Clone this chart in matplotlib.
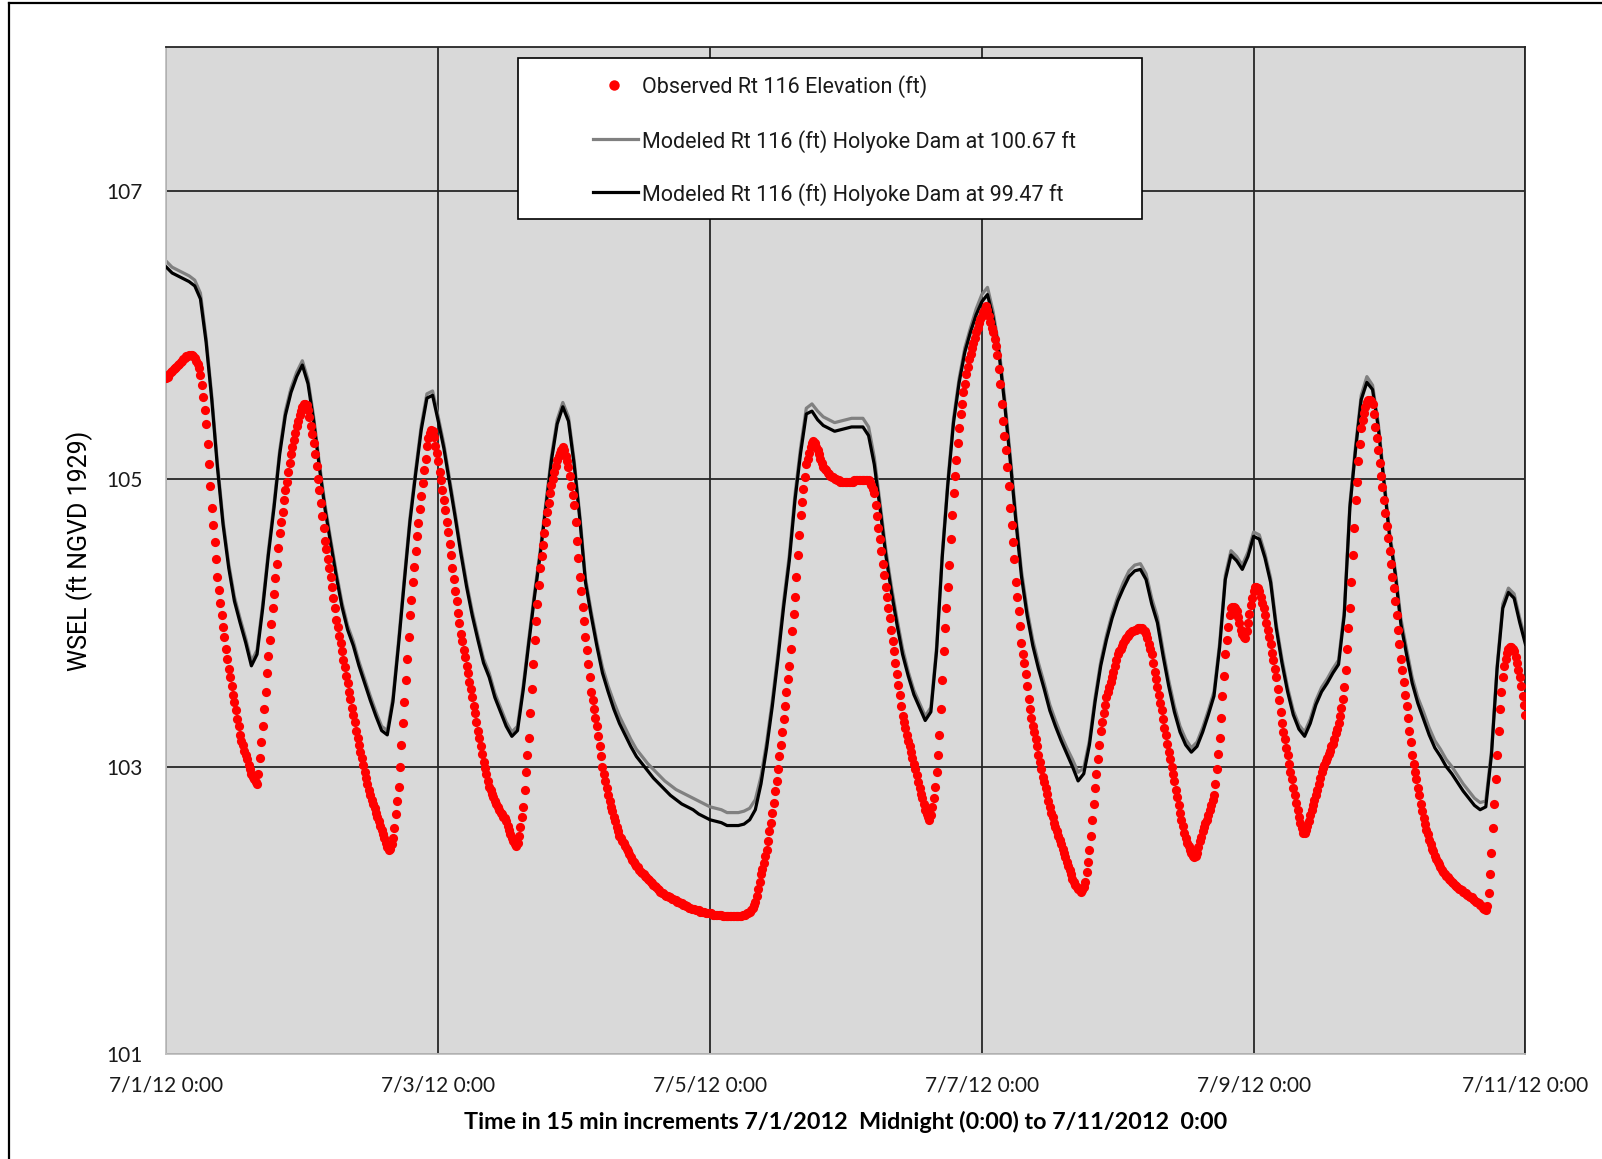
import matplotlib
matplotlib.use('Agg')
import matplotlib.pyplot as plt
import pandas as pd
from matplotlib.lines import Line2D
from matplotlib.patches import Rectangle

# Observed Rt 116 elevation (ft), every 15 min from 7/1/2012 0:00 to 7/11/2012 0:00
observed = [
    105.70, 105.71, 105.73, 105.74, 105.75, 105.76, 105.77, 105.78,
    105.79, 105.80, 105.81, 105.82, 105.83, 105.84, 105.85, 105.85,
    105.86, 105.86, 105.86, 105.85, 105.84, 105.82, 105.80, 105.77,
    105.72, 105.65, 105.57, 105.48, 105.38, 105.24, 105.10, 104.95,
    104.80, 104.68, 104.56, 104.44, 104.32, 104.23, 104.14, 104.05,
    103.97, 103.90, 103.82, 103.75, 103.68, 103.62, 103.56, 103.50,
    103.45, 103.39, 103.33, 103.28, 103.22, 103.18, 103.15, 103.11,
    103.08, 103.05, 103.01, 102.98, 102.95, 102.93, 102.91, 102.89,
    102.88, 102.95, 103.06, 103.17, 103.28, 103.40, 103.52, 103.65,
    103.77, 103.88, 103.99, 104.10, 104.20, 104.31, 104.41, 104.52,
    104.62, 104.70, 104.77, 104.85, 104.92, 104.98, 105.05, 105.11,
    105.17, 105.22, 105.27, 105.32, 105.37, 105.40, 105.44, 105.47,
    105.50, 105.52, 105.52, 105.51, 105.48, 105.43, 105.37, 105.31,
    105.25, 105.17, 105.09, 105.00, 104.92, 104.83, 104.74, 104.66,
    104.57, 104.51, 104.44, 104.38, 104.32, 104.25, 104.17, 104.10,
    104.02, 103.97, 103.91, 103.86, 103.80, 103.74, 103.69, 103.63,
    103.58, 103.52, 103.47, 103.41, 103.36, 103.31, 103.25, 103.20,
    103.15, 103.10, 103.06, 103.01, 102.96, 102.92, 102.88, 102.84,
    102.80, 102.77, 102.74, 102.71, 102.68, 102.65, 102.62, 102.59,
    102.56, 102.53, 102.50, 102.47, 102.44, 102.42, 102.43, 102.46,
    102.50, 102.57, 102.67, 102.76, 102.86, 103.00, 103.15, 103.30,
    103.45, 103.60, 103.75, 103.90, 104.05, 104.16, 104.28, 104.39,
    104.50, 104.60, 104.69, 104.79, 104.88, 104.97, 105.06, 105.14,
    105.23, 105.28, 105.32, 105.34, 105.33, 105.29, 105.23, 105.18,
    105.12, 105.05, 104.99, 104.92, 104.85, 104.78, 104.70, 104.63,
    104.55, 104.47, 104.38, 104.30, 104.22, 104.15, 104.07, 104.00,
    103.92, 103.87, 103.81, 103.76, 103.70, 103.65, 103.59, 103.54,
    103.48, 103.42, 103.37, 103.31, 103.25, 103.20, 103.14, 103.09,
    103.03, 102.99, 102.95, 102.90, 102.86, 102.84, 102.81, 102.79,
    102.76, 102.74, 102.72, 102.70, 102.68, 102.67, 102.65, 102.64,
    102.62, 102.59, 102.56, 102.53, 102.50, 102.48, 102.46, 102.45,
    102.47, 102.52, 102.58, 102.65, 102.72, 102.84, 102.96, 103.08,
    103.20, 103.37, 103.54, 103.71, 103.88, 104.01, 104.13, 104.26,
    104.38, 104.46, 104.54, 104.62, 104.70, 104.77, 104.83, 104.90,
    104.96, 105.00, 105.05, 105.09, 105.13, 105.16, 105.18, 105.20,
    105.22, 105.20, 105.16, 105.12, 105.08, 105.02, 104.95, 104.89,
    104.82, 104.70, 104.57, 104.45, 104.32, 104.22, 104.11, 104.01,
    103.90, 103.81, 103.71, 103.62, 103.52, 103.46, 103.40, 103.34,
    103.28, 103.21, 103.14, 103.07, 103.00, 102.95, 102.90, 102.85,
    102.80, 102.76, 102.72, 102.69, 102.65, 102.62, 102.58, 102.55,
    102.52, 102.50, 102.48, 102.47, 102.45, 102.43, 102.41, 102.39,
    102.37, 102.35, 102.34, 102.32, 102.31, 102.30, 102.28, 102.27,
    102.26, 102.25, 102.24, 102.23, 102.22, 102.21, 102.20, 102.19,
    102.18, 102.17, 102.16, 102.15, 102.14, 102.13, 102.12, 102.12,
    102.11, 102.10, 102.10, 102.09, 102.09, 102.08, 102.08, 102.07,
    102.07, 102.06, 102.06, 102.05, 102.05, 102.04, 102.04, 102.03,
    102.03, 102.02, 102.02, 102.01, 102.01, 102.01, 102.00, 102.00,
    102.00, 101.99, 101.99, 101.99, 101.99, 101.98, 101.98, 101.98,
    101.98, 101.98, 101.97, 101.97, 101.97, 101.97, 101.97, 101.97,
    101.97, 101.96, 101.96, 101.96, 101.96, 101.96, 101.96, 101.96,
    101.96, 101.96, 101.96, 101.96, 101.96, 101.96, 101.96, 101.97,
    101.97, 101.97, 101.98, 101.98, 101.99, 102.00, 102.02, 102.04,
    102.06, 102.10, 102.15, 102.20, 102.25, 102.29, 102.33, 102.38,
    102.42, 102.48, 102.55, 102.61, 102.68, 102.75, 102.83, 102.90,
    102.98, 103.07, 103.15, 103.24, 103.33, 103.42, 103.52, 103.61,
    103.70, 103.82, 103.94, 104.06, 104.18, 104.32, 104.47, 104.61,
    104.75, 104.84, 104.93, 105.01, 105.10, 105.14, 105.18, 105.22,
    105.25, 105.26, 105.25, 105.22, 105.20, 105.17, 105.14, 105.11,
    105.08, 105.07, 105.06, 105.04, 105.03, 105.02, 105.01, 105.01,
    105.00, 105.00, 104.99, 104.99, 104.98, 104.98, 104.98, 104.98,
    104.98, 104.98, 104.98, 104.98, 104.98, 104.98, 104.99, 104.99,
    104.99, 104.99, 104.99, 104.99, 104.99, 104.99, 104.99, 104.99,
    104.99, 104.98, 104.96, 104.93, 104.90, 104.82, 104.74, 104.66,
    104.58, 104.50, 104.41, 104.33, 104.25, 104.18, 104.10, 104.03,
    103.95, 103.87, 103.80, 103.72, 103.64, 103.57, 103.50, 103.42,
    103.35, 103.31, 103.27, 103.22, 103.18, 103.14, 103.10, 103.06,
    103.02, 102.98, 102.94, 102.89, 102.85, 102.81, 102.78, 102.74,
    102.70, 102.67, 102.65, 102.63, 102.66, 102.72, 102.78, 102.86,
    102.96, 103.08, 103.22, 103.40, 103.60, 103.80, 103.96, 104.10,
    104.25, 104.40, 104.58, 104.75, 104.90, 105.02, 105.13, 105.25,
    105.35, 105.45, 105.52, 105.60, 105.66, 105.73, 105.78, 105.83,
    105.87, 105.91, 105.94, 105.98, 106.02, 106.05, 106.08, 106.11,
    106.13, 106.16, 106.18, 106.20, 106.17, 106.13, 106.09, 106.05,
    106.02, 105.97, 105.92, 105.86, 105.76, 105.66, 105.52, 105.40,
    105.30, 105.20, 105.08, 104.95, 104.80, 104.68, 104.56, 104.44,
    104.28, 104.18, 104.08, 103.98, 103.86, 103.78, 103.72, 103.64,
    103.56, 103.47, 103.40, 103.34, 103.28, 103.24, 103.19, 103.14,
    103.08, 103.03, 102.98, 102.93, 102.89, 102.85, 102.81, 102.76,
    102.72, 102.68, 102.65, 102.61, 102.58, 102.55, 102.52, 102.49,
    102.46, 102.43, 102.40, 102.37, 102.34, 102.31, 102.28, 102.25,
    102.22, 102.20, 102.18, 102.16, 102.15, 102.14, 102.13, 102.14,
    102.16, 102.20, 102.27, 102.34, 102.42, 102.52, 102.63, 102.74,
    102.85, 102.95, 103.05, 103.15, 103.25, 103.31, 103.37, 103.43,
    103.48, 103.52, 103.55, 103.59, 103.62, 103.66, 103.70, 103.74,
    103.78, 103.80, 103.82, 103.84, 103.86, 103.88, 103.89, 103.91,
    103.92, 103.93, 103.94, 103.94, 103.95, 103.95, 103.96, 103.96,
    103.96, 103.96, 103.95, 103.94, 103.92, 103.89, 103.85, 103.82,
    103.78, 103.72, 103.66, 103.61, 103.55, 103.50, 103.44, 103.39,
    103.33, 103.27, 103.22, 103.16, 103.10, 103.05, 103.00, 102.95,
    102.90, 102.84, 102.79, 102.73, 102.68, 102.63, 102.59, 102.54,
    102.50, 102.47, 102.45, 102.42, 102.40, 102.38, 102.37, 102.38,
    102.40, 102.44, 102.48, 102.51, 102.55, 102.58, 102.61, 102.63,
    102.66, 102.70, 102.73, 102.77, 102.80, 102.88, 102.98, 103.09,
    103.20, 103.34, 103.49, 103.63, 103.78, 103.88, 103.97, 104.05,
    104.10, 104.11, 104.11, 104.10, 104.08, 104.04, 104.00, 103.95,
    103.92, 103.90, 103.89, 103.94, 104.00, 104.06, 104.12, 104.17,
    104.22, 104.25, 104.25, 104.24, 104.22, 104.18, 104.14, 104.10,
    104.05, 104.00, 103.95, 103.90, 103.85, 103.79, 103.74, 103.68,
    103.62, 103.54, 103.46, 103.38, 103.30, 103.24, 103.19, 103.13,
    103.08, 103.02, 102.96, 102.91, 102.85, 102.80, 102.75, 102.70,
    102.65, 102.61, 102.57, 102.54, 102.54, 102.56, 102.59, 102.62,
    102.66, 102.70, 102.73, 102.77, 102.80, 102.84, 102.88, 102.92,
    102.96, 102.99, 103.01, 103.04, 103.06, 103.09, 103.11, 103.14,
    103.16, 103.19, 103.23, 103.26, 103.30, 103.35, 103.41, 103.47,
    103.55, 103.67, 103.82, 103.96, 104.10, 104.28, 104.47, 104.66,
    104.85, 104.98, 105.12, 105.24, 105.35, 105.41, 105.46, 105.50,
    105.53, 105.55, 105.55, 105.54, 105.52, 105.45, 105.36, 105.28,
    105.20, 105.11, 105.02, 104.94, 104.85, 104.76, 104.67, 104.59,
    104.50, 104.41, 104.32, 104.24, 104.15, 104.05, 103.95, 103.85,
    103.75, 103.67, 103.59, 103.50, 103.42, 103.34, 103.25, 103.17,
    103.08, 103.02, 102.96, 102.91, 102.85, 102.80, 102.74, 102.69,
    102.64, 102.60, 102.56, 102.53, 102.49, 102.46, 102.43, 102.41,
    102.38, 102.36, 102.34, 102.32, 102.30, 102.28, 102.27, 102.25,
    102.24, 102.23, 102.22, 102.21, 102.20, 102.19, 102.18, 102.17,
    102.16, 102.15, 102.15, 102.14, 102.13, 102.12, 102.12, 102.11,
    102.10, 102.09, 102.09, 102.08, 102.07, 102.06, 102.06, 102.05,
    102.04, 102.03, 102.02, 102.01, 102.00, 102.03, 102.12, 102.25,
    102.40, 102.57, 102.74, 102.91, 103.08, 103.25, 103.40, 103.52,
    103.62, 103.70, 103.75, 103.79, 103.82, 103.83, 103.83, 103.82,
    103.80, 103.76, 103.72, 103.67, 103.62, 103.56, 103.49, 103.43,
    103.36,
]

# Modeled Rt 116 (ft), hourly, Holyoke Dam at 100.67 ft
modeled_100_67 = [
    106.51, 106.47, 106.45, 106.43, 106.41, 106.38, 106.29, 105.98, 105.58, 105.11,
    104.71, 104.41, 104.18, 104.03, 103.89, 103.73, 103.81, 104.13, 104.50, 104.83,
    105.20, 105.47, 105.63, 105.74, 105.82, 105.69, 105.43, 105.11, 104.82, 104.58,
    104.35, 104.14, 103.98, 103.87, 103.73, 103.61, 103.49, 103.38, 103.28, 103.25,
    103.48, 103.88, 104.31, 104.73, 105.06, 105.37, 105.59, 105.61, 105.43, 105.24,
    105.00, 104.76, 104.51, 104.28, 104.08, 103.91, 103.75, 103.65, 103.51, 103.41,
    103.31, 103.24, 103.28, 103.56, 103.89, 104.21, 104.50, 104.83, 105.16, 105.41,
    105.53, 105.43, 105.13, 104.75, 104.31, 104.08, 103.87, 103.69, 103.56, 103.45,
    103.35, 103.27, 103.19, 103.12, 103.07, 103.02, 102.98, 102.94, 102.90, 102.87,
    102.84, 102.82, 102.80, 102.78, 102.76, 102.74, 102.72, 102.71, 102.70, 102.68,
    102.68, 102.68, 102.69, 102.71, 102.77, 102.93, 103.17, 103.46, 103.79, 104.15,
    104.47, 104.89, 105.22, 105.49, 105.52, 105.47, 105.43, 105.41, 105.39, 105.40,
    105.41, 105.42, 105.42, 105.42, 105.36, 105.15, 104.84, 104.52, 104.26, 104.03,
    103.82, 103.66, 103.53, 103.44, 103.35, 103.41, 103.83, 104.48, 104.99, 105.42,
    105.70, 105.91, 106.05, 106.18, 106.28, 106.33, 106.16, 105.92, 105.57, 105.17,
    104.75, 104.36, 104.09, 103.88, 103.72, 103.58, 103.43, 103.32, 103.22, 103.13,
    103.05, 102.96, 102.99, 103.18, 103.48, 103.73, 103.91, 104.06, 104.18, 104.28,
    104.36, 104.40, 104.41, 104.34, 104.17, 104.04, 103.81, 103.60, 103.42, 103.28,
    103.19, 103.13, 103.17, 103.27, 103.39, 103.52, 103.86, 104.33, 104.50, 104.46,
    104.40, 104.49, 104.63, 104.61, 104.48, 104.31, 103.99, 103.75, 103.55, 103.39,
    103.29, 103.24, 103.33, 103.46, 103.55, 103.61, 103.68, 103.74, 104.08, 104.83,
    105.23, 105.58, 105.71, 105.65, 105.39, 105.01, 104.63, 104.37, 104.03, 103.82,
    103.62, 103.48, 103.38, 103.27, 103.18, 103.12, 103.05, 103.00, 102.94, 102.88,
    102.83, 102.78, 102.75, 102.76, 103.11, 103.70, 104.13, 104.24, 104.20, 104.03,
    103.88,
]

# Modeled Rt 116 (ft), hourly, Holyoke Dam at 99.47 ft
modeled_99_47 = [
    106.47, 106.43, 106.41, 106.39, 106.37, 106.34, 106.25, 105.95, 105.55, 105.08,
    104.68, 104.38, 104.15, 104.00, 103.86, 103.70, 103.78, 104.10, 104.47, 104.80,
    105.17, 105.44, 105.60, 105.71, 105.79, 105.66, 105.40, 105.08, 104.79, 104.55,
    104.32, 104.11, 103.95, 103.84, 103.70, 103.58, 103.46, 103.35, 103.25, 103.22,
    103.45, 103.85, 104.28, 104.70, 105.03, 105.34, 105.56, 105.58, 105.40, 105.21,
    104.97, 104.73, 104.48, 104.25, 104.05, 103.88, 103.72, 103.62, 103.48, 103.38,
    103.28, 103.21, 103.25, 103.53, 103.86, 104.18, 104.47, 104.80, 105.13, 105.38,
    105.50, 105.40, 105.10, 104.72, 104.28, 104.05, 103.84, 103.65, 103.52, 103.40,
    103.30, 103.22, 103.14, 103.07, 103.02, 102.97, 102.92, 102.88, 102.84, 102.80,
    102.77, 102.74, 102.72, 102.70, 102.67, 102.65, 102.63, 102.62, 102.61, 102.59,
    102.59, 102.59, 102.60, 102.63, 102.70, 102.88, 103.13, 103.42, 103.75, 104.11,
    104.43, 104.85, 105.18, 105.45, 105.47, 105.41, 105.37, 105.35, 105.33, 105.34,
    105.35, 105.36, 105.36, 105.36, 105.30, 105.10, 104.80, 104.48, 104.22, 103.99,
    103.78, 103.63, 103.50, 103.41, 103.32, 103.38, 103.80, 104.45, 104.96, 105.39,
    105.67, 105.88, 106.02, 106.14, 106.23, 106.28, 106.12, 105.88, 105.53, 105.13,
    104.71, 104.32, 104.05, 103.84, 103.68, 103.54, 103.39, 103.28, 103.18, 103.09,
    103.00, 102.90, 102.95, 103.15, 103.45, 103.70, 103.88, 104.03, 104.15, 104.24,
    104.32, 104.36, 104.37, 104.30, 104.13, 104.00, 103.77, 103.56, 103.38, 103.24,
    103.15, 103.10, 103.14, 103.24, 103.36, 103.49, 103.83, 104.30, 104.47, 104.43,
    104.37, 104.46, 104.60, 104.58, 104.45, 104.28, 103.96, 103.72, 103.52, 103.36,
    103.26, 103.21, 103.30, 103.43, 103.52, 103.58, 103.65, 103.71, 104.05, 104.80,
    105.20, 105.55, 105.67, 105.62, 105.36, 104.98, 104.60, 104.34, 103.99, 103.78,
    103.58, 103.44, 103.33, 103.22, 103.13, 103.07, 103.00, 102.95, 102.89, 102.83,
    102.78, 102.73, 102.70, 102.72, 103.08, 103.68, 104.10, 104.21, 104.17, 104.00,
    103.85,
]

x_ticks = ['2012-07-01', '2012-07-03', '2012-07-05', '2012-07-07', '2012-07-09', '2012-07-11']
x_tick_labels = ['7/1/12 0:00', '7/3/12 0:00', '7/5/12 0:00', '7/7/12 0:00', '7/9/12 0:00', '7/11/12 0:00']
y_ticks = [101, 103, 105, 107]

legend_labels = ['Observed Rt 116 Elevation (ft)',
                 'Modeled Rt 116 (ft) Holyoke Dam at 100.67 ft',
                 'Modeled Rt 116 (ft) Holyoke Dam at 99.47 ft']

t_obs = pd.date_range('2012-07-01 00:00', periods=len(observed), freq='15min')
t_mod = pd.date_range('2012-07-01 00:00', periods=len(modeled_99_47), freq='60min')

fig = plt.figure(figsize=(16.02, 11.59), dpi=100)
ax = fig.add_axes([0.1039, 0.0903, 0.8483, 0.8691])
ax.set_facecolor('#D9D9D9')
ax.set_axisbelow(True)

ax.plot(t_mod, modeled_100_67, color='#808080', lw=2.3, zorder=2)
ax.plot(t_mod, modeled_99_47, color='black', lw=2.3, zorder=3)
ax.plot(t_obs, observed, linestyle='none', marker='o', ms=6.6,
        color='#FF0000', mec='none', zorder=4)

ax.set_xlim(pd.Timestamp('2012-07-01'), pd.Timestamp('2012-07-11'))
ax.set_ylim(101, 108)
ax.set_xticks(pd.to_datetime(x_ticks))
ax.set_xticklabels(x_tick_labels)
ax.set_yticks(y_ticks)
ax.grid(True, color='#262626', lw=1.3)
ax.tick_params(length=0, labelsize=15, colors='#1a1a1a')
ax.tick_params(axis='x', pad=15.5)
ax.tick_params(axis='y', pad=17)
for lab in ax.get_xticklabels() + ax.get_yticklabels():
    lab.set_family('Lato')

for side in ['left', 'bottom']:
    ax.spines[side].set_color('#BFBFBF')
    ax.spines[side].set_linewidth(1.3)
for side in ['top', 'right']:
    ax.spines[side].set_color('#262626')
    ax.spines[side].set_linewidth(1.3)

ax.set_xlabel('Time in 15 min increments 7/1/2012  Midnight (0:00) to 7/11/2012  0:00',
              family='Lato', fontweight='bold', fontsize=16.8, labelpad=11)
ax.set_ylabel('WSEL (ft NGVD 1929)', family='Roboto', fontsize=18, labelpad=10)

# legend box drawn in axes fraction
ax.add_patch(Rectangle((0.2587, 0.8293), 0.4592, 0.1598, transform=ax.transAxes,
                       facecolor='white', edgecolor='black', lw=1.2, zorder=5))
rows = [0.9625, 0.9087, 0.8561]
ax.add_line(Line2D([0.3293], [rows[0]], transform=ax.transAxes, linestyle='none',
                   marker='o', ms=7.5, color='#FF0000', mec='none', zorder=6))
ax.add_line(Line2D([0.3136, 0.3473], [rows[1], rows[1]], transform=ax.transAxes,
                   color='#808080', lw=2.3, zorder=6))
ax.add_line(Line2D([0.3136, 0.3473], [rows[2], rows[2]], transform=ax.transAxes,
                   color='black', lw=2.3, zorder=6))
for y, lab in zip(rows, legend_labels):
    ax.text(0.3496, y - 0.002, lab, transform=ax.transAxes, va='center', ha='left',
            family='Roboto', fontsize=15.5, color='#1a1a1a', zorder=6)

# outer frame (left and top edges)
fig.add_artist(Line2D([0.0059, 0.0059], [0.0, 0.9972], transform=fig.transFigure,
                      color='black', lw=1.6))
fig.add_artist(Line2D([0.0059, 1.0], [0.9972, 0.9972], transform=fig.transFigure,
                      color='black', lw=1.6))

fig.savefig('out.png', dpi=100)
